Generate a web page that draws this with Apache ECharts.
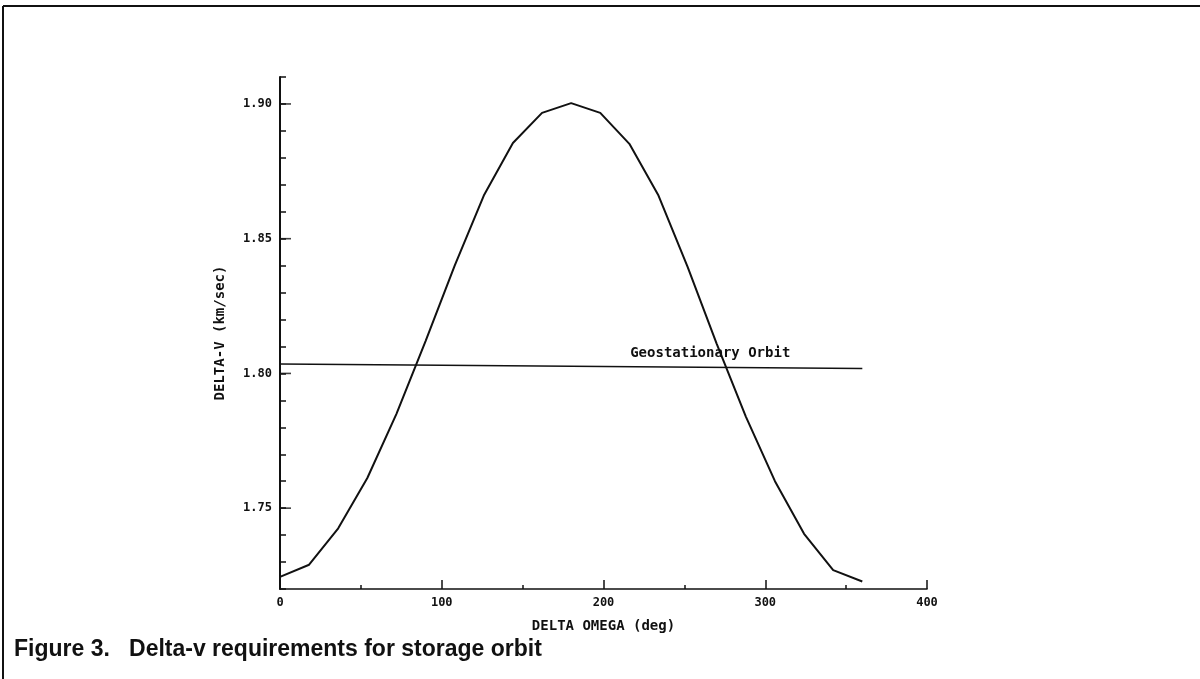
<!DOCTYPE html>
<html>
<head>
<meta charset="utf-8">
<title>Delta-v requirements for storage orbit</title>
<script src="https://cdn.jsdelivr.net/npm/echarts@6/dist/echarts.min.js"></script>
<style>
  html, body { margin: 0; padding: 0; background: #fff; }
  #chart { width: 1200px; height: 679px; }
</style>
</head>
<body>
<div id="chart"></div>
<script>
// Datos (grados, km/sec)
const deltaOmega = [0, 18, 36, 54, 72, 90, 108, 126, 144, 162, 180,
  198, 216, 234, 252, 270, 288, 306, 324, 342, 360];
const deltaV = [1.7245, 1.7290, 1.7425, 1.7612, 1.7850, 1.8120, 1.8400,
  1.8660, 1.8855, 1.8967, 1.9003, 1.8967, 1.8852, 1.8660, 1.8395, 1.8110,
  1.7840, 1.7600, 1.7405, 1.7270, 1.7228];

// Linea de referencia: orbita geoestacionaria
const geoX = [0, 360];
const geoY = [1.8035, 1.8018];
const geoLabel = "Geostationary Orbit";
const geoLabelAt = [266, 1.8035];

// Marcas largas del eje Y
const yMajorTicks = [1.75, 1.80, 1.85, 1.90];

const monoFont = "DejaVu Sans Mono";
const ink = "#111";

const chart = echarts.init(document.getElementById("chart"));

chart.setOption({
  animation: false,
  backgroundColor: "#fff",
  grid: { left: 280, top: 77, width: 647, height: 512, containLabel: false },
  xAxis: {
    type: "value",
    min: 0,
    max: 400,
    interval: 100,
    name: "DELTA OMEGA (deg)",
    nameLocation: "middle",
    nameGap: 30,
    nameTextStyle: { fontFamily: monoFont, fontSize: 14, color: ink, fontWeight: "bold" },
    axisLine: { lineStyle: { color: ink, width: 1.6 } },
    axisTick: { inside: true, length: 9, lineStyle: { color: ink, width: 1.5 } },
    minorTick: { show: true, splitNumber: 2, length: 4, lineStyle: { color: ink, width: 1.5 } },
    axisLabel: { fontFamily: monoFont, fontSize: 12, color: ink, fontWeight: "bold", margin: 8 },
    splitLine: { show: false }
  },
  yAxis: {
    type: "value",
    min: 1.72,
    max: 1.91,
    interval: 0.01,
    name: "DELTA-V (km/sec)",
    nameLocation: "middle",
    nameGap: 53,
    nameRotate: 90,
    nameTextStyle: { fontFamily: monoFont, fontSize: 14, color: ink, fontWeight: "bold" },
    axisLine: { lineStyle: { color: ink, width: 2 } },
    axisTick: { inside: true, length: 6, lineStyle: { color: ink, width: 1.5 } },
    axisLabel: {
      fontFamily: monoFont,
      fontSize: 12,
      color: ink,
      fontWeight: "bold",
      margin: 8,
      formatter: function (v) {
        const k = v * 20;
        return Math.abs(k - Math.round(k)) < 1e-6 ? v.toFixed(2) : "";
      }
    },
    splitLine: { show: false }
  },
  series: [
    {
      type: "line",
      data: deltaOmega.map((x, i) => [x, deltaV[i]]),
      symbol: "none",
      lineStyle: { color: ink, width: 2 },
      z: 3
    },
    {
      type: "line",
      data: geoX.map((x, i) => [x, geoY[i]]),
      symbol: "none",
      lineStyle: { color: ink, width: 1.5 },
      markPoint: {
        symbol: "circle",
        symbolSize: 0,
        data: [{ coord: geoLabelAt }],
        label: {
          show: true,
          formatter: geoLabel,
          position: "top",
          distance: 4,
          fontFamily: monoFont,
          fontSize: 14,
          fontWeight: "bold",
          color: ink
        }
      },
      z: 2
    },
    {
      // marcas mayores mas largas sobre el eje Y
      type: "scatter",
      data: yMajorTicks.map((v) => [0, v]),
      symbol: "rect",
      symbolSize: [11, 1.6],
      symbolOffset: [5.5, 0],
      itemStyle: { color: ink },
      silent: true,
      z: 4
    }
  ],
  graphic: [
    // marco de la figura
    { type: "line", shape: { x1: 3, y1: 6, x2: 1200, y2: 6 }, style: { stroke: ink, lineWidth: 2 } },
    { type: "line", shape: { x1: 3, y1: 6, x2: 3, y2: 679 }, style: { stroke: ink, lineWidth: 2 } },
    {
      type: "text",
      left: 14,
      top: 638,
      style: {
        text: "Figure 3.   Delta-v requirements for storage orbit",
        font: "bold 23px 'Liberation Sans', Arial, sans-serif",
        fill: ink
      }
    }
  ]
});
</script>
</body>
</html>
